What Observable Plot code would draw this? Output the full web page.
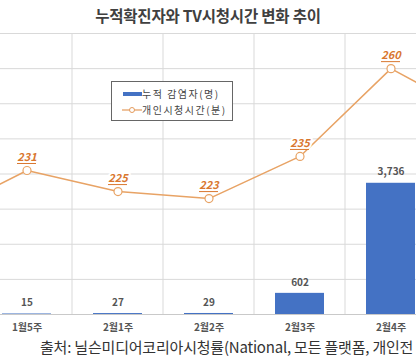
<!DOCTYPE html>
<html><head><meta charset="utf-8">
<script src="https://cdn.jsdelivr.net/npm/d3@7"></script>
<script src="https://cdn.jsdelivr.net/npm/@observablehq/plot@0.6"></script>
<style>
body{margin:0;background:#fff;font-family:"Noto Sans CJK KR","Noto Sans",sans-serif;}
#wrap{position:relative;width:416px;height:362px;overflow:hidden;}
#title{height:28px;line-height:30px;text-align:center;font-size:15.5px;font-weight:bold;color:#404040;letter-spacing:-0.2px}
#cap{white-space:nowrap;font-size:15px;color:#333;padding-left:40px;line-height:20px;letter-spacing:-0.2px}
#legend{position:absolute;left:111px;top:81px;width:120px;height:38px;border:1px solid #666;background:#fff;font-size:10px;color:#444;letter-spacing:1.5px}
.row{position:absolute;left:10px;height:12px;line-height:12px;white-space:nowrap}
</style></head><body>
<div id="wrap">
<div id="title">누적확진자와 TV시청시간 변화 추이</div>
<div id="chart"></div>
<div id="cap">출처: 닐슨미디어코리아시청률(National, 모든 플랫폼, 개인전</div>
<div id="legend">
 <div class="row" style="top:6px"><svg width="20" height="12" style="vertical-align:top"><rect x="1" y="4" width="19" height="4" fill="#4472C4"/></svg>누적 감염자(명)</div>
 <div class="row" style="top:22px"><svg width="20" height="12" style="vertical-align:top"><line x1="0" x2="20" y1="6" y2="6" stroke="#E59B5C" stroke-width="1.2"/><circle cx="10" cy="6" r="2.5" fill="#fff" stroke="#E59B5C"/></svg>개인시청시간(분)</div>
</div>
</div>
<script>
const weeks = ["1월4주","1월5주","2월1주","2월2주","2월3주","2월4주","3월1주"];
const cases = [4, 15, 27, 29, 602, 3736, 7134];
const tvMinutes = [218, 231, 225, 223, 235, 260, 246];
const casesTicks = [0,1000,2000,3000,4000,5000,6000,7000,8000];
const tvDomain = [190, 270];
const casesDomain = [0, 8000];

const data = weeks.map((w,i)=>({week:w, cases:cases[i], tv:tvMinutes[i]}));
const toY = v => casesDomain[0] + (v - tvDomain[0]) / (tvDomain[1]-tvDomain[0]) * (casesDomain[1]-casesDomain[0]);
const visible = weeks.slice(1,6);
const shown = data.filter(d=>visible.includes(d.week));

const chart = Plot.plot({
  width: 416, height: 309,
  marginTop: 5, marginBottom: 23, marginLeft: 0, marginRight: 0,
  style: {fontFamily: '"Noto Sans CJK KR", sans-serif', background: "#fff", overflow: "hidden"},
  x: {type: "band", domain: weeks, range: [-113, 530], padding: 0, axis: null},
  y: {domain: casesDomain, axis: null},
  marks: [
    Plot.ruleY(casesTicks, {stroke: "#d9d9d9", strokeWidth: 1}),
    Plot.ruleX(weeks, {x: d=>d, dx: -46, stroke: "#d9d9d9", strokeWidth: 1}),
    Plot.barY(data, {x: "week", y: "cases", fill: "#4472C4", insetLeft: 21, insetRight: 21}),
    Plot.ruleY([0], {stroke: "#c9c9c9"}),
    Plot.text(shown, {x: "week", y: "cases", text: d=>d3.format(",")(d.cases), dy: -11, fontSize: 10, fontWeight: "bold", fill: "#555"}),
    Plot.text(visible, {x: d=>d, y: 0, dy: 13, text: d=>d, fontSize: 10, fontWeight: "bold", fill: "#555", letterSpacing: 0.5}),
    Plot.line(data, {x: "week", y: d=>toY(d.tv), stroke: "#E8A365", strokeWidth: 1.5}),
    Plot.text(shown, {x: "week", y: d=>toY(d.tv), dy: -13, text: d=>String(d.tv), fontSize: 11, fontWeight: "bold", fontStyle: "italic", fill: "#D9772F", stroke: "#fff", strokeWidth: 4}),
    Plot.tickY(shown, {x: "week", y: d=>toY(d.tv), dy: -7, insetLeft: 36, insetRight: 36, stroke: "#D9772F", strokeWidth: 1}),
    Plot.dot(data, {x: "week", y: d=>toY(d.tv), r: 4, fill: "#fff", stroke: "#E8A365", strokeWidth: 1.2})
  ]
});
document.getElementById("chart").appendChild(chart);
</script>
</body></html>
